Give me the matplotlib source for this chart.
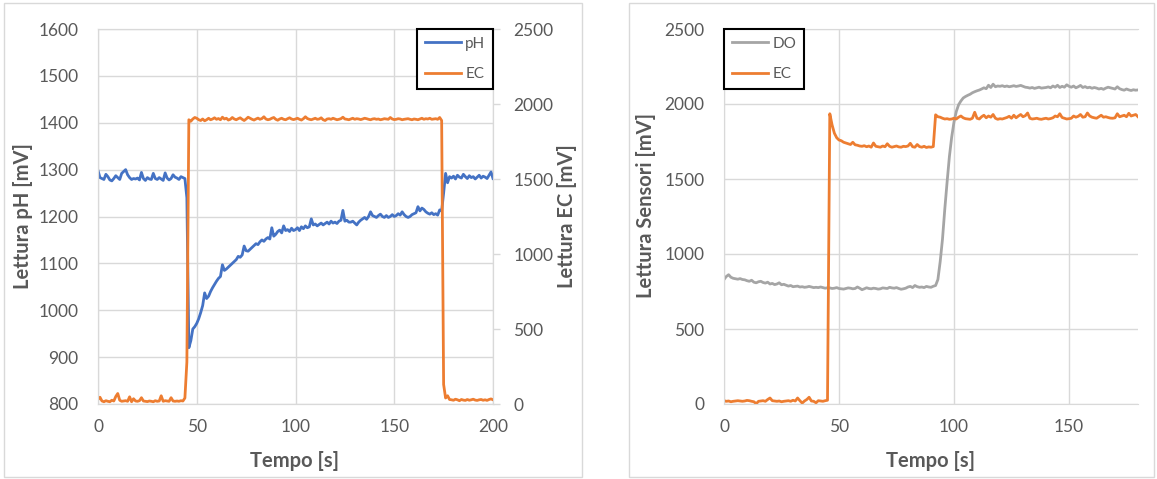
import numpy as np
import matplotlib.pyplot as plt
from matplotlib.patches import Rectangle

plt.rcParams['font.family'] = ['Lato', 'DejaVu Sans']

# ---- dati pannello sinistro (pH / EC), un campione al secondo ----
tempo_sx = np.arange(0, 201)
ph = [1298, 1283, 1281, 1279, 1290, 1285, 1278, 1276, 1281, 1287,
      1283, 1279, 1292, 1296, 1300, 1289, 1283, 1279, 1281, 1280,
      1282, 1278, 1294, 1281, 1277, 1283, 1280, 1279, 1292, 1281,
      1279, 1283, 1280, 1277, 1293, 1282, 1278, 1281, 1289, 1284,
      1282, 1279, 1285, 1283, 1281, 1240, 920, 935, 960, 965,
      972, 982, 995, 1010, 1037, 1025, 1030, 1040, 1048, 1055,
      1062, 1068, 1072, 1097, 1085, 1088, 1092, 1096, 1100, 1104,
      1108, 1115, 1113, 1118, 1137, 1127, 1126, 1130, 1134, 1138,
      1142, 1140, 1146, 1150, 1147, 1152, 1155, 1152, 1176, 1158,
      1162, 1168, 1171, 1165, 1180, 1170, 1172, 1168, 1175, 1170,
      1172, 1176, 1170, 1178, 1174, 1180, 1176, 1178, 1195, 1182,
      1184, 1180, 1183, 1186, 1182, 1185, 1188, 1184, 1190, 1186,
      1188, 1185, 1190, 1192, 1213, 1190, 1192, 1188, 1188, 1190,
      1186, 1182, 1188, 1192, 1195, 1198, 1194, 1200, 1210, 1202,
      1200, 1198, 1202, 1205, 1200, 1198, 1202, 1198, 1200, 1204,
      1200, 1202, 1206, 1203, 1210, 1204, 1200, 1198, 1200, 1204,
      1206, 1208, 1221, 1212, 1218, 1215, 1210, 1207, 1205, 1208,
      1204, 1206, 1203, 1214, 1212, 1250, 1292, 1272, 1285, 1282,
      1286, 1280, 1288, 1284, 1282, 1290, 1285, 1281, 1287, 1283,
      1285, 1280, 1284, 1288, 1282, 1286, 1284, 1281, 1288, 1295,
      1281]
ec_sx = [30, 45, 20, 15, 22, 18, 15, 25, 20, 50,
         70, 25, 18, 20, 22, 18, 48, 15, 35, 20,
         18, 22, 42, 20, 18, 16, 20, 18, 15, 22,
         18, 20, 55, 18, 22, 20, 18, 42, 20, 18,
         20, 18, 22, 20, 40, 280, 1895, 1885, 1900, 1910,
         1905, 1895, 1890, 1900, 1888, 1895, 1905, 1895, 1900, 1908,
         1898, 1903, 1895, 1912, 1900, 1905, 1893, 1898, 1910, 1900,
         1895, 1902, 1908, 1898, 1890, 1900, 1912, 1905, 1898, 1893,
         1900, 1906, 1898, 1903, 1915, 1900, 1895, 1898, 1905, 1910,
         1898, 1892, 1900, 1905, 1898, 1895, 1902, 1908, 1900, 1896,
         1900, 1905, 1898, 1893, 1902, 1915, 1903, 1898, 1895, 1900,
         1905, 1898, 1900, 1908, 1895, 1890, 1900, 1902, 1898, 1905,
         1900, 1895, 1898, 1902, 1912, 1900, 1898, 1895, 1900, 1905,
         1898, 1902, 1900, 1896, 1900, 1905, 1902, 1898, 1895, 1900,
         1902, 1898, 1900, 1895, 1898, 1902, 1900, 1898, 1910, 1900,
         1896, 1898, 1902, 1900, 1895, 1898, 1900, 1902, 1898, 1895,
         1900, 1898, 1895, 1900, 1905, 1898, 1902, 1900, 1905, 1898,
         1900, 1902, 1898, 1910, 1890, 130, 40, 55, 30, 28,
         25, 32, 28, 22, 30, 26, 24, 30, 25, 28,
         32, 26, 24, 28, 30, 25, 28, 24, 30, 34,
         28]

# ---- dati pannello destro (DO / EC) ----
tempo_dx = np.arange(0, 181)
do = [830, 850, 862, 845, 838, 835, 832, 836, 830, 828,
      822, 818, 825, 812, 808, 815, 818, 810, 806, 812,
      800, 804, 796, 800, 808, 795, 798, 792, 786, 790,
      782, 784, 786, 780, 782, 778, 780, 784, 780, 776,
      778, 776, 780, 776, 772, 775, 774, 770, 772, 776,
      770, 768, 766, 770, 774, 772, 768, 770, 780, 772,
      762, 768, 775, 770, 768, 772, 770, 766, 768, 774,
      772, 770, 778, 774, 772, 776, 770, 765, 768, 772,
      780, 784, 776, 790, 782, 778, 780, 776, 784, 780,
      778, 785, 790, 830, 950, 1100, 1300, 1480, 1650, 1780,
      1880, 1950, 1995, 2020, 2040, 2050, 2058, 2065, 2075, 2082,
      2088, 2093, 2100, 2108, 2102, 2125, 2110, 2132, 2115, 2120,
      2118, 2122, 2116, 2120, 2115, 2118, 2122, 2117, 2120, 2124,
      2118, 2112, 2110, 2106, 2110, 2104, 2108, 2112, 2106, 2108,
      2110, 2114, 2108, 2120, 2112, 2125, 2110, 2118, 2112, 2128,
      2118, 2112, 2120, 2108, 2115, 2124, 2110, 2116, 2108, 2112,
      2105, 2110, 2106, 2100, 2104, 2098, 2106, 2112, 2108, 2104,
      2100, 2115, 2102, 2096, 2092, 2100, 2094, 2090, 2095, 2092,
      2094]
ec_dx = [22, 18, 20, 15, 18, 20, 22, 20, 18, 20,
         24, 22, 18, 15, 2, 18, 20, 22, 18, 30,
         40, 22, 20, 18, 20, 15, 18, 20, 22, 18,
         25, 20, 40, 22, 6, 20, 30, 45, 20, 18,
         8, 22, 20, 18, 22, 25, 1935, 1860, 1805, 1775,
         1760, 1755, 1745, 1740, 1735, 1730, 1745, 1728, 1725, 1720,
         1718, 1722, 1715, 1720, 1712, 1740, 1718, 1715, 1712, 1720,
         1715, 1735, 1718, 1712, 1716, 1720, 1714, 1712, 1718, 1716,
         1720, 1738, 1715, 1712, 1730, 1716, 1712, 1718, 1710, 1714,
         1712, 1716, 1928, 1915, 1912, 1905, 1900, 1902, 1898, 1900,
         1905, 1900, 1912, 1920, 1908, 1902, 1900, 1898, 1905, 1945,
         1905, 1900, 1915, 1925, 1908, 1920, 1912, 1930, 1905, 1898,
         1902, 1900, 1905, 1910, 1918, 1905, 1925, 1908, 1920, 1930,
         1915, 1922, 1940, 1905, 1900, 1902, 1905, 1900, 1898, 1902,
         1905, 1900, 1903, 1908, 1920, 1915, 1935, 1910, 1905, 1900,
         1902, 1905, 1920, 1912, 1918, 1930, 1912, 1915, 1940, 1920,
         1912, 1908, 1905, 1915, 1925, 1912, 1915, 1910, 1906, 1905,
         1908, 1935, 1915, 1920, 1925, 1915, 1938, 1920, 1925, 1930,
         1915]

BLU = '#4472C4'
ARANCIO = '#ED7D31'
GRIGIO = '#A5A5A5'
TESTO = '#595959'
GRIGLIA = '#D9D9D9'

W, H = 1157, 479
fig = plt.figure(figsize=(W / 100, H / 100), dpi=100)


def box(x0, y0, x1, y1):
    # rettangolo in pixel (origine in alto a sinistra)
    return [x0 / W, 1 - y1 / H, (x1 - x0) / W, (y1 - y0) / H]


# cornici delle due aree grafico
for x0, x1 in [(4, 582), (629, 1154)]:
    fig.patches.append(Rectangle((x0 / W, 2 / H), (x1 - x0) / W, 474 / H,
                                 transform=fig.transFigure, fill=False,
                                 edgecolor=GRIGLIA, lw=1))


def stile(ax):
    ax.grid(True, color=GRIGLIA, lw=1)
    ax.set_axisbelow(True)
    for s in ax.spines.values():
        s.set_color(GRIGLIA)
    ax.tick_params(colors=TESTO, labelsize=12.5, length=0)
    ax.tick_params(axis='y', pad=14)
    ax.tick_params(axis='x', pad=11)


# ---- pannello sinistro ----
ax1 = fig.add_axes(box(98, 29, 493, 404))
ax2 = ax1.twinx()
l1, = ax1.plot(tempo_sx, ph, color=BLU, lw=2, label='pH')
l2, = ax2.plot(tempo_sx, ec_sx, color=ARANCIO, lw=2, label='EC')
ax1.set_xlim(0, 200)
ax1.set_ylim(800, 1600)
ax2.set_ylim(0, 2500)
ax1.set_xticks(range(0, 201, 50))
ax1.set_yticks(range(800, 1601, 100))
ax2.set_yticks(range(0, 2501, 500))
stile(ax1)
for s in ax2.spines.values():
    s.set_color(GRIGLIA)
ax2.tick_params(axis='y', colors=TESTO, labelsize=12.5, length=5,
                width=1, pad=9.5)
ax2.tick_params(axis='y', color=GRIGLIA)
leg = ax2.legend([l1, l2], ['pH', 'EC'], loc='upper right',
                 bbox_to_anchor=(1, 1), borderaxespad=0, fontsize=11,
                 handlelength=2.4, handletextpad=0.25, labelspacing=1.1,
                 borderpad=0.5, fancybox=False, framealpha=1)
leg.get_frame().set_edgecolor('black')
leg.get_frame().set_linewidth(1.5)
for t in leg.get_texts():
    t.set_color(TESTO)

# ---- pannello destro ----
ax3 = fig.add_axes(box(724, 29, 1138, 404))
l3, = ax3.plot(tempo_dx, do, color=GRIGIO, lw=2, label='DO')
l4, = ax3.plot(tempo_dx, ec_dx, color=ARANCIO, lw=2, label='EC')
ax3.set_xlim(0, 180)
ax3.set_ylim(0, 2500)
ax3.set_xticks(range(0, 181, 50))
ax3.set_yticks(range(0, 2501, 500))
stile(ax3)
ax3.spines['right'].set_visible(False)
leg2 = ax3.legend(loc='upper left', bbox_to_anchor=(0, 1), borderaxespad=0,
                  fontsize=11, handlelength=2.4, handletextpad=0.25,
                  labelspacing=1.1, borderpad=0.5, fancybox=False,
                  framealpha=1)
leg2.get_frame().set_edgecolor('black')
leg2.get_frame().set_linewidth(1.5)
for t in leg2.get_texts():
    t.set_color(TESTO)

# ---- titoli degli assi ----
lab = dict(color=TESTO, fontsize=14.5, fontweight='bold', ha='center', va='center')
fig.text(23 / W, 1 - 216 / H, 'Lettura pH [mV]', rotation=90, **lab)
fig.text(567 / W, 1 - 216 / H, 'Lettura EC [mV]', rotation=90, **lab)
fig.text(646 / W, 1 - 206 / H, 'Lettura Sensori [mV]', rotation=90, **lab)
fig.text(295 / W, 1 - 461 / H, 'Tempo [s]', **lab)
fig.text(931 / W, 1 - 461 / H, 'Tempo [s]', **lab)

fig.savefig('out.png', dpi=100)
